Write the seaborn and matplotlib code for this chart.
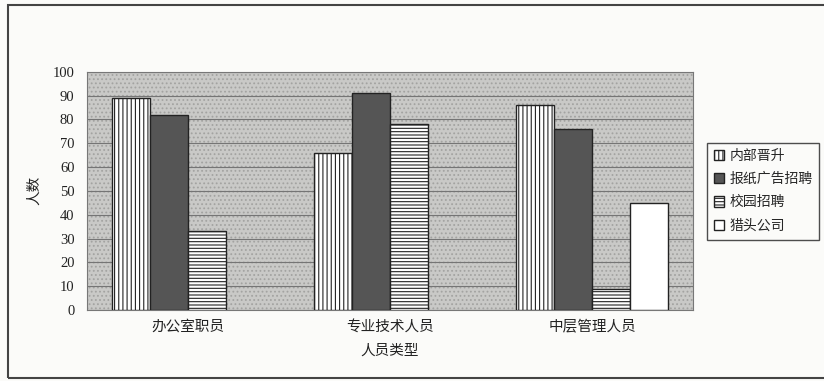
import matplotlib
matplotlib.use("Agg")
import matplotlib.pyplot as plt
import seaborn as sns
import pandas as pd
from matplotlib.patches import Rectangle, Patch

categories = ["办公室职员", "专业技术人员", "中层管理人员"]
series = ["内部晋升", "报纸广告招聘", "校园招聘", "猎头公司"]
v_internal = [89, 66, 86]
v_paper = [82, 91, 76]
v_campus = [33, 78, 9]
v_hunter = [0, 0, 45]
yticks = [0, 10, 20, 30, 40, 50, 60, 70, 80, 90, 100]

rows = []
for s, vals in zip(series, [v_internal, v_paper, v_campus, v_hunter]):
    for c, v in zip(categories, vals):
        rows.append({"人员类型": c, "招聘方式": s, "人数": v})
df = pd.DataFrame(rows)

sns.set_theme(style="white")
plt.rcParams["font.family"] = ["Liberation Serif", "Noto Sans CJK SC"]
plt.rcParams["hatch.linewidth"] = 0.8

fig = plt.figure(figsize=(8.24, 3.81), dpi=100)
fig.patch.set_facecolor("#fbfbf9")
W, H = 824, 381
ax = fig.add_axes([87 / W, 1 - 310 / H, (693 - 87) / W, (310 - 71.7) / H])

# textured background
ax.set_facecolor("#c9c9c7")
bg = Rectangle((0, 0), 1, 1, transform=ax.transAxes, facecolor="#c9c9c7",
               edgecolor="#a3a3a1", hatch="....", linewidth=0, zorder=0)
ax.add_patch(bg)

styles = {
    "内部晋升": dict(facecolor="white", hatch="||||"),
    "报纸广告招聘": dict(facecolor="#555555", hatch=None),
    "校园招聘": dict(facecolor="white", hatch="-----"),
    "猎头公司": dict(facecolor="white", hatch=None),
}

sns.barplot(data=df, x="人员类型", y="人数", hue="招聘方式", order=categories,
            hue_order=series, width=0.75, gap=0, ax=ax, legend=False,
            edgecolor="black", linewidth=1.0, zorder=3)

for s, cont in zip(series, ax.containers):
    for bar in cont:
        bar.set_facecolor(styles[s]["facecolor"])
        bar.set_edgecolor("#222222")
        if styles[s]["hatch"]:
            bar.set_hatch(styles[s]["hatch"])
        if bar.get_height() == 0:
            bar.set_visible(False)

ax.set_ylim(0, 100)
ax.set_yticks(yticks)
ax.set_xlim(-0.5, 2.5)
ax.yaxis.grid(True, color="#757575", linewidth=0.8, zorder=1)
ax.set_axisbelow(True)
for sp in ax.spines.values():
    sp.set_color("#777777")
    sp.set_linewidth(0.8)
ax.tick_params(axis="both", length=0, labelsize=10.5, colors="#222222")
ax.tick_params(axis="y", pad=9)
ax.tick_params(axis="x", pad=7)
ax.set_xlabel("人员类型", fontsize=10.5, color="#222222", labelpad=8)
ax.set_ylabel("人数", fontsize=10.5, color="#222222", labelpad=8)

handles = [Patch(facecolor=styles[s]["facecolor"], edgecolor="#222222",
                 hatch=styles[s]["hatch"], linewidth=1.0) for s in series]
leg = fig.legend(handles, series, loc="upper left",
                 bbox_to_anchor=(707 / W, 1 - 143 / H), frameon=True,
                 fancybox=False, edgecolor="#222222", fontsize=10,
                 handlelength=0.75, handleheight=0.75, handletextpad=0.35,
                 labelspacing=0.72, borderpad=0.5, borderaxespad=0)
leg.get_frame().set_linewidth(1.0)
leg.get_frame().set_facecolor("#fbfbf9")

# outer frame
frame = Rectangle((8 / W, 1 - 378 / H), (830 - 8) / W, (378 - 5) / H,
                  transform=fig.transFigure, fill=False, edgecolor="#444444",
                  linewidth=1.5)
fig.add_artist(frame)

fig.savefig("out.png", dpi=100, facecolor=fig.get_facecolor())
